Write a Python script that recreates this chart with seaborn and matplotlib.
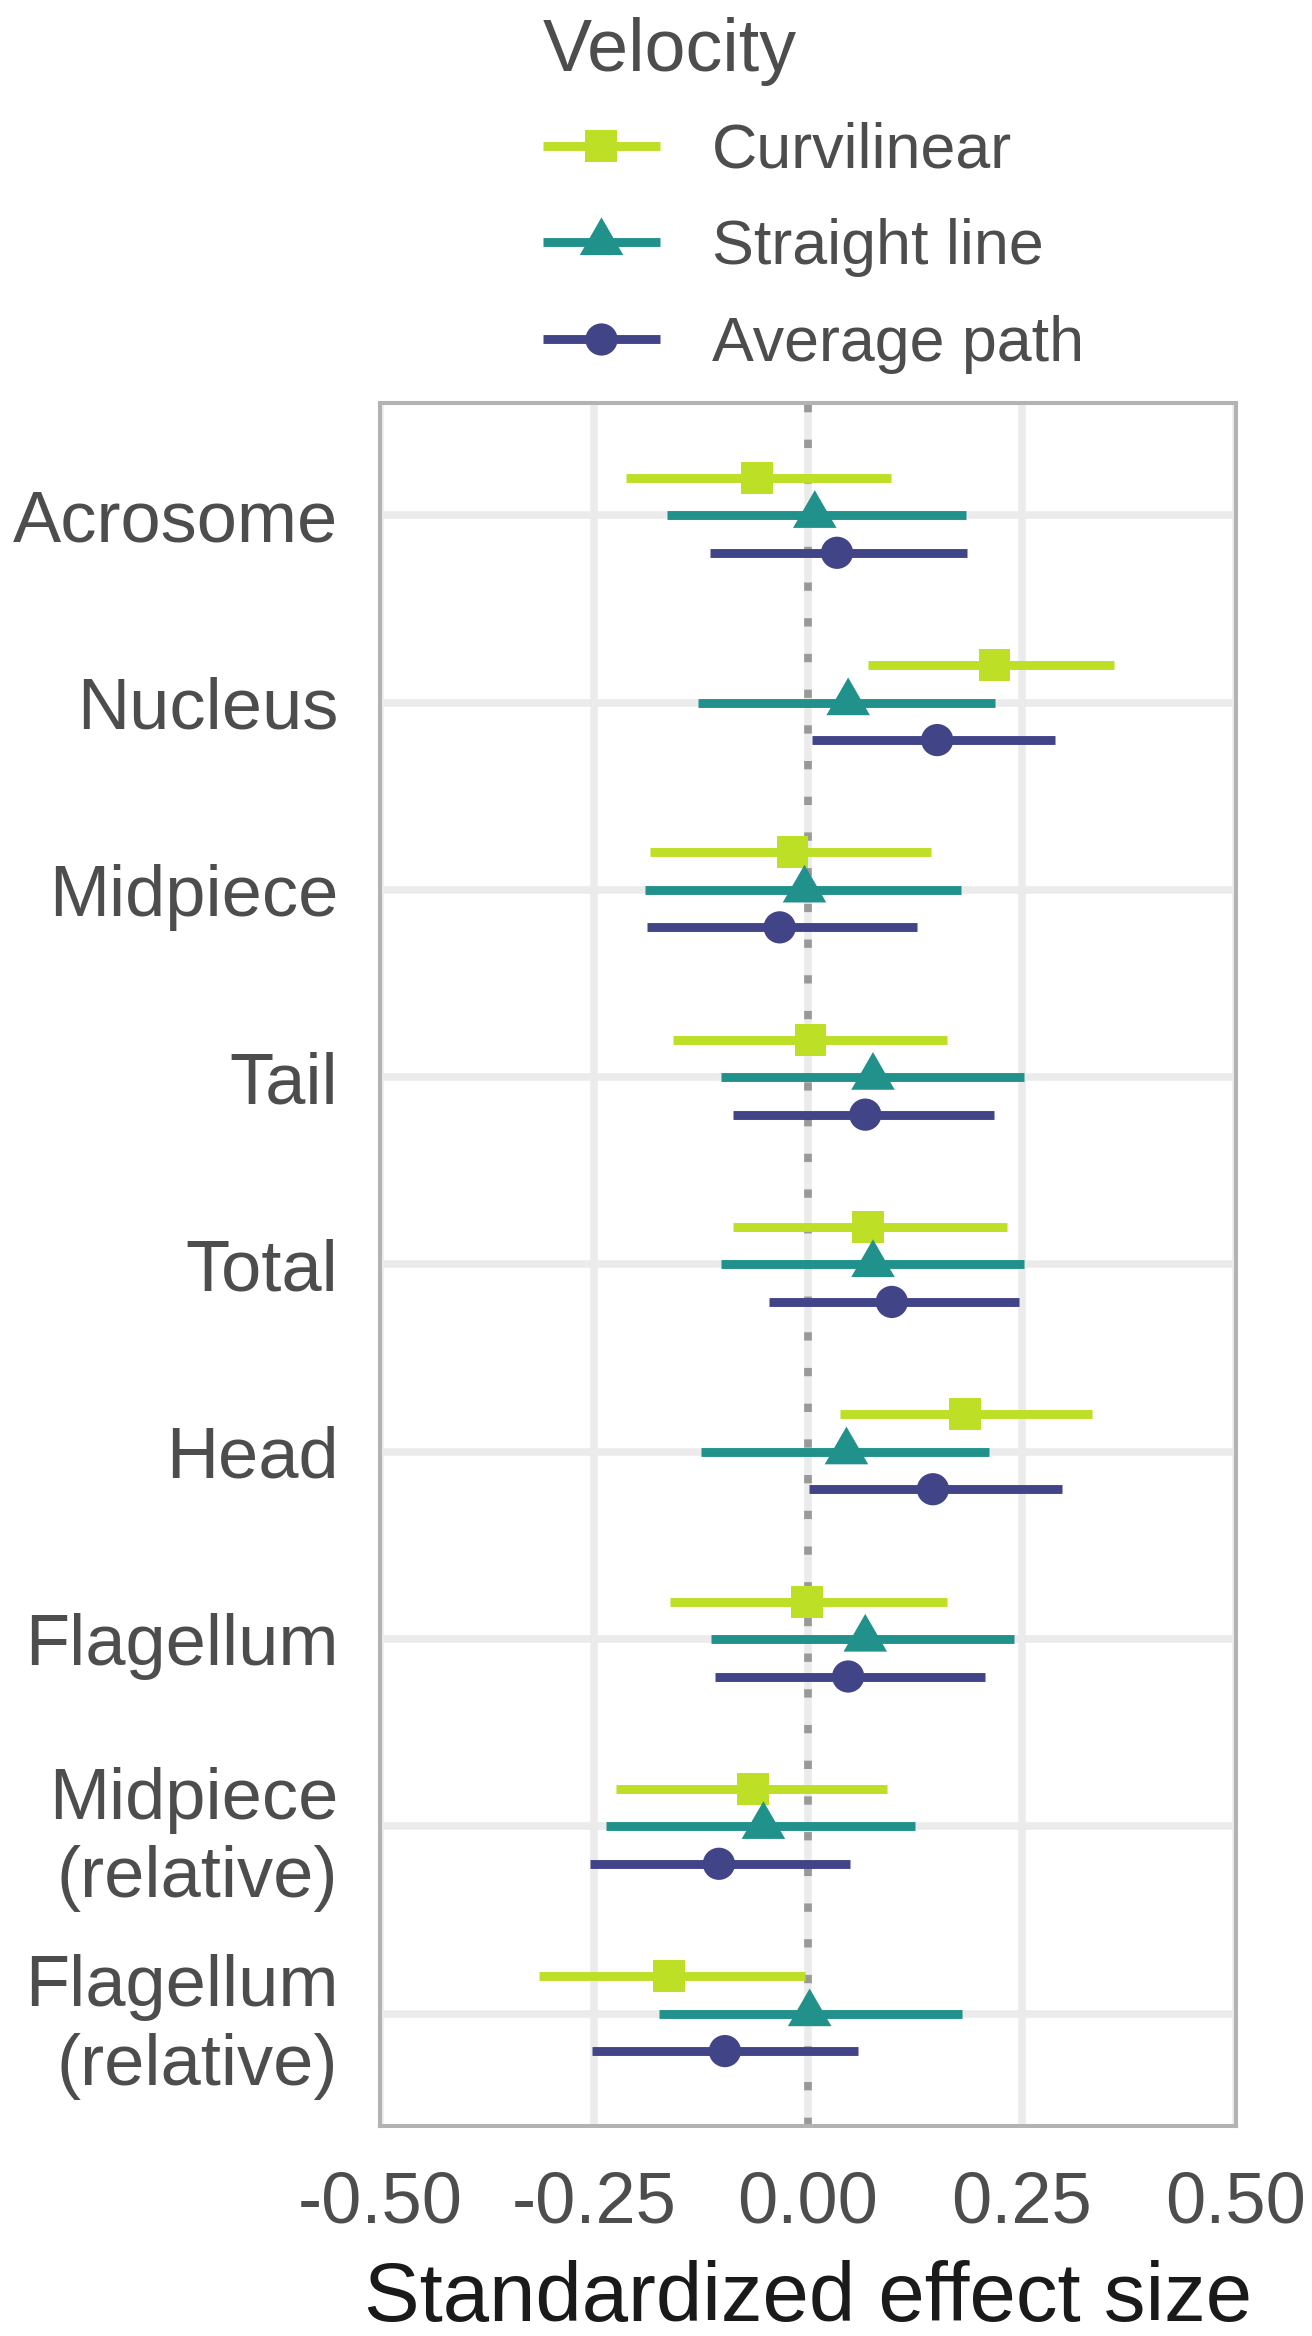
import numpy as np
import pandas as pd
import matplotlib
matplotlib.use("Agg")
import matplotlib.pyplot as plt
from matplotlib.lines import Line2D
from matplotlib.path import Path
import seaborn as sns

# ---------------- data ----------------
categories = ["Acrosome", "Nucleus", "Midpiece", "Tail", "Total", "Head",
              "Flagellum", "Midpiece\n(relative)", "Flagellum\n(relative)"]
velocity_levels = ["Curvilinear", "Straight line", "Average path"]

curv_est = [-0.060, 0.218, -0.018, 0.003, 0.070, 0.183, -0.001, -0.064, -0.162]
curv_lo = [-0.212, 0.070, -0.184, -0.158, -0.087, 0.038, -0.161, -0.224, -0.314]
curv_hi = [0.097, 0.357, 0.144, 0.162, 0.233, 0.332, 0.163, 0.092, -0.004]

str_est = [0.008, 0.047, -0.004, 0.076, 0.076, 0.045, 0.067, -0.052, 0.002]
str_lo = [-0.165, -0.128, -0.190, -0.102, -0.101, -0.125, -0.113, -0.236, -0.174]
str_hi = [0.185, 0.219, 0.179, 0.253, 0.252, 0.212, 0.241, 0.125, 0.180]

avg_est = [0.034, 0.151, -0.033, 0.067, 0.098, 0.146, 0.047, -0.104, -0.097]
avg_lo = [-0.114, 0.005, -0.188, -0.087, -0.046, 0.001, -0.108, -0.255, -0.252]
avg_hi = [0.186, 0.289, 0.128, 0.217, 0.247, 0.297, 0.207, 0.049, 0.058]

x_ticks = [-0.50, -0.25, 0.00, 0.25, 0.50]
x_tick_labels = ["-0.50", "-0.25", "0.00", "0.25", "0.50"]

# ---------------- styling ----------------
sns.set_theme(style="whitegrid")
plt.rcParams["font.family"] = ["Liberation Sans", "DejaVu Sans"]

colors = {"Curvilinear": "#BDDF26", "Straight line": "#21918C", "Average path": "#414487"}
tri = Path([(0, 0.57735), (-0.5, -0.288675), (0.5, -0.288675), (0, 0.57735)],
           [Path.MOVETO, Path.LINETO, Path.LINETO, Path.CLOSEPOLY])
markers = {"Curvilinear": "s", "Straight line": tri, "Average path": "o"}
sizes = {"Curvilinear": 11.5, "Straight line": 18.1, "Average path": 11.6}
offsets = {"Curvilinear": -0.2, "Straight line": 0.0, "Average path": 0.2}

series = {
    "Curvilinear": (curv_est, curv_lo, curv_hi),
    "Straight line": (str_est, str_lo, str_hi),
    "Average path": (avg_est, avg_lo, avg_hi),
}
rows = []
for v in velocity_levels:
    est, lo, hi = series[v]
    for i, c in enumerate(categories):
        rows.append({"category": c, "velocity": v, "est": est[i], "lo": lo[i],
                     "hi": hi[i], "ypos": i + offsets[v]})
df = pd.DataFrame(rows)

fig = plt.figure(figsize=(6.56, 11.68), dpi=200)
ax = fig.add_axes([0.2896, 0.0899, 0.6524, 0.7376])

ax.set_xlim(-0.5, 0.5)
ax.set_ylim(len(categories) - 1 + 0.6, -0.6)

ax.grid(True, color="#EBEBEB", linewidth=2.7)
ax.set_axisbelow(True)
ax.axvline(0, color="#999999", linewidth=2.77, linestyle=(0, (1.08, 3.56)), zorder=1.5)

lw_bar = 3.2
for v in velocity_levels:
    sub = df[df["velocity"] == v]
    ax.hlines(sub["ypos"], sub["lo"], sub["hi"], color=colors[v], linewidth=lw_bar,
              zorder=2)
    sns.scatterplot(data=sub, x="est", y="ypos", ax=ax, color=colors[v],
                    marker=markers[v], s=sizes[v] ** 2, linewidth=0,
                    edgecolor="none", zorder=3, legend=False)

ax.set_yticks(range(len(categories)))
ax.set_yticklabels(categories, linespacing=1.22)
ax.set_xticks(x_ticks)
ax.set_xticklabels(x_tick_labels)
ax.tick_params(axis="both", length=0, labelsize=26, labelcolor="#4D4D4D")
ax.tick_params(axis="x", pad=16)
ax.tick_params(axis="y", pad=15)
ax.set_ylabel("")
ax.set_xlabel("Standardized effect size", fontsize=30, color="#1A1A1A", labelpad=8)

for sp in ax.spines.values():
    sp.set_color("#B3B3B3")
    sp.set_linewidth(1.45)
    sp.set_visible(True)

handles = [Line2D([0], [0], color=colors[v], linewidth=lw_bar, marker=markers[v],
                  markersize=sizes[v], markeredgewidth=0, solid_capstyle="butt")
           for v in velocity_levels]
leg = ax.legend(handles, velocity_levels, title="Velocity", loc="upper left",
                bbox_to_anchor=(0.385, 1.009), bbox_transform=fig.transFigure,
                frameon=False, fontsize=22.6, title_fontsize=26.5,
                alignment="left", handlelength=1.86, handletextpad=0.84,
                labelspacing=0.6, borderpad=0.1)
leg._legend_box.sep = 13
for t in leg.get_texts():
    t.set_color("#4D4D4D")
leg.get_title().set_color("#4D4D4D")

fig.savefig("out.png", dpi=200)
